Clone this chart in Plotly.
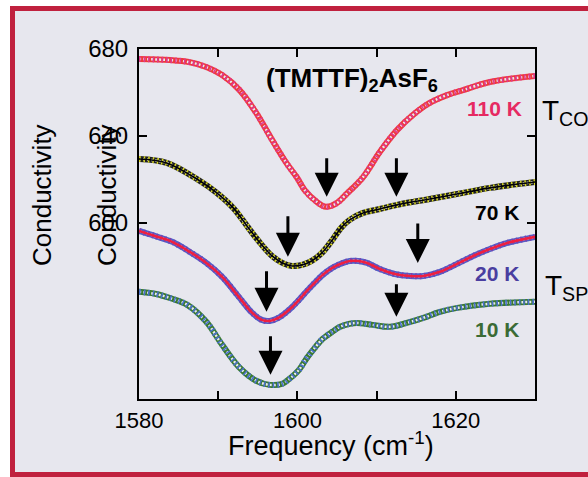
import plotly.graph_objects as go

# ---- data ----
f_110 = [1580.0, 1583.9, 1586.3, 1588.5, 1590.5, 1592.7, 1594.8, 1596.8, 1598.6, 1599.9, 1601.0, 1602.3,
         1603.6, 1605.0, 1606.2, 1608.3, 1610.4, 1612.6, 1614.6, 1616.7, 1618.9, 1620.9, 1624.3, 1630.0]
s_110 = [675.4, 674.9, 674.0, 671.7, 668.0, 661.1, 650.6, 638.2, 627.6, 621.1, 614.7, 610.1,
         607.4, 609.2, 613.3, 621.1, 632.6, 642.8, 649.7, 655.2, 658.8, 661.1, 664.8, 667.6]

f_70 = [1580, 1583.5, 1587.7, 1589.7, 1591.9, 1594.0, 1595.5, 1596.8, 1598.1, 1599.3, 1600.6, 1601.8,
        1603.1, 1604.5, 1605.5, 1606.6, 1608.3, 1610.4, 1612.6, 1614.6, 1616.7, 1620.9, 1624.3, 1630]
s_70 = [629.4, 627.6, 619.3, 614.2, 606.9, 596.8, 589.9, 584.8, 581.6, 580.2, 580.7, 582.5,
        586.2, 592.6, 597.7, 601.4, 604.6, 606.4, 608.3, 609.7, 611.0, 613.8, 616.1, 618.8]

f_20 = [1580, 1582.0, 1584.2, 1586.4, 1588.5, 1590.5, 1592.6, 1594.3, 1595.5, 1596.5, 1597.6, 1599.1,
        1600.2, 1601.2, 1602.3, 1603.2, 1604.4, 1605.4, 1606.6, 1607.7, 1608.8, 1610.4, 1612.3, 1614.2,
        1615.9, 1618.0, 1619.9, 1622.2, 1624.3, 1626.5, 1630]
s_20 = [596.3, 594.0, 591.3, 586.7, 581.6, 575.2, 566.0, 558.6, 555.4, 554.9, 556.3, 560.5,
        564.6, 568.7, 572.9, 576.1, 579.3, 581.1, 582.5, 582.5, 581.6, 578.8, 576.5, 575.6,
        575.6, 577.5, 580.7, 584.8, 588.0, 590.8, 593.6]

f_10 = [1580, 1582.0, 1584.2, 1586.1, 1588.5, 1590.5, 1592.6, 1594.8, 1596.5, 1598.1, 1599.0,
        1600.2, 1601.2, 1602.3, 1603.2, 1604.4, 1605.4, 1606.6, 1607.5, 1609.5, 1611.7, 1613.8,
        1615.9, 1618.0, 1620.2, 1624.3, 1630]
s_10 = [568.3, 567.4, 565.1, 562.3, 554.5, 543.9, 533.8, 527.4, 525.5, 526.0, 528.3,
        532.4, 537.9, 543.0, 546.7, 549.9, 552.2, 553.6, 554.0, 553.1, 552.2, 554.0,
        556.3, 559.1, 560.9, 562.8, 563.7]

# arrow tips (frequency, conductivity)
arrow_f = [1603.7, 1612.5, 1598.8, 1615.2, 1596.1, 1612.5, 1596.6]
arrow_s = [612.0, 612.0, 584.4, 581.6, 559.1, 556.8, 530.1]
arrow_len = [40, 40, 42, 41, 42, 34, 40]

x_ticks = [1580, 1590, 1600, 1610, 1620]
x_ticktext = ["1580", "", "1600", "", "1620"]
y_ticks = [600, 640, 680]

FONT = "Liberation Sans, Arial, sans-serif"
BG = "#e7e7ee"
RED = "#c0213e"

fig = go.Figure()


def band(x, y, c1, c2, fit=None, fitw=2):
    # chain of small triangles approximated by a striped band
    fig.add_trace(go.Scatter(x=x, y=y, mode="lines", line=dict(color=c1, width=6, shape="spline", smoothing=1.0),
                             hoverinfo="skip", showlegend=False))
    fig.add_trace(go.Scatter(x=x, y=y, mode="lines", line=dict(color=BG, width=2.5, shape="spline", smoothing=1.0, dash="2px,2px"),
                             hoverinfo="skip", showlegend=False))
    fig.add_trace(go.Scatter(x=x, y=y, mode="lines", line=dict(color=c2, width=6, shape="spline", smoothing=1.0, dash="1.5px,3px"),
                             hoverinfo="skip", showlegend=False))
    if fit:
        fig.add_trace(go.Scatter(x=x, y=y, mode="lines", line=dict(color=fit, width=fitw, shape="spline", smoothing=1.0),
                                 hoverinfo="skip", showlegend=False))


band(f_110, s_110, "#ee3a3a", "#e0388e")
band(f_70, s_70, "#202020", "#d8d820", fit="#000000", fitw=1.6)
band(f_20, s_20, "#5060c8", "#7a40b0", fit="#ee2040", fitw=2.6)
band(f_10, s_10, "#3a7a30", "#4a70d0")

ann = []
for fx, sy, L in zip(arrow_f, arrow_s, arrow_len):
    ann.append(dict(x=fx, y=sy, xref="x", yref="y", ax=0, ay=-L, showarrow=True, text="",
                    arrowhead=2, arrowsize=1.6, arrowwidth=3, arrowcolor="black", standoff=0))


def px(p):
    return (p - 139) / 396


def py(p):
    return (399 - p) / 350


def txt(text, x, y, size, color="black", bold=False, xanchor="center", angle=0):
    t = f"<b>{text}</b>" if bold else text
    ann.append(dict(text=t, x=px(x), y=py(y), xref="paper", yref="paper", showarrow=False,
                    xanchor=xanchor, yanchor="middle", textangle=angle,
                    font=dict(family=FONT, size=size, color=color)))


txt("(TMTTF)<sub>2</sub>AsF<sub>6</sub>", 264, 80, 26, bold=True, xanchor="left")
txt("110 K", 524, 108, 21, color="#e62a62", bold=True, xanchor="right")
txt("T<sub>CO</sub>", 540, 112, 28, xanchor="left")
txt("70 K", 521, 212, 21, bold=True, xanchor="right")
txt("20 K", 521, 273, 21, color="#4a3ea0", bold=True, xanchor="right")
txt("T<sub>SP</sub>", 543, 287, 28, xanchor="left")
txt("10 K", 521, 329, 21, color="#3b6b35", bold=True, xanchor="right")
txt("Conductivity", 42, 195, 26, angle=-90)
txt("Conductivity", 107, 195, 26, angle=-90)
txt("Frequency (cm<sup>-1</sup>)", 331, 444, 27)

# red frame: a red slab with the grey panel inset
shapes = [
    dict(type="rect", xref="paper", yref="paper", x0=px(10), x1=px(640), y0=py(520), y1=py(6),
         line=dict(width=0), fillcolor=RED, layer="below"),
    dict(type="rect", xref="paper", yref="paper", x0=px(15), x1=px(640), y0=py(472), y1=py(11),
         line=dict(width=0), fillcolor=BG, layer="below"),
]

fig.update_layout(
    width=588, height=477,
    margin=dict(l=139, r=53, t=49, b=78),
    paper_bgcolor="white", plot_bgcolor=BG,
    font=dict(family=FONT, size=22, color="black"),
    showlegend=False,
    annotations=ann, shapes=shapes,
    xaxis=dict(range=[1580, 1630], tickvals=x_ticks, ticktext=x_ticktext, ticks="inside", ticklen=8, tickwidth=2,
               tickcolor="black", showline=True, linecolor="black", linewidth=2, mirror="allticks",
               showgrid=False, zeroline=False, tickfont=dict(size=22, family=FONT), ticklabelstandoff=1),
    yaxis=dict(range=[519, 680], tickvals=y_ticks, ticks="inside", ticklen=8, tickwidth=2,
               tickcolor="black", showline=True, linecolor="black", linewidth=2, mirror="allticks",
               showgrid=False, zeroline=False, tickfont=dict(size=24, family=FONT), ticklabelstandoff=4),
)

# remove the default page margin so the 588x477 figure fills the window exactly
fig.write_html("out.html", config={"displayModeBar": False},
               post_script="document.body.style.margin='0px';")
